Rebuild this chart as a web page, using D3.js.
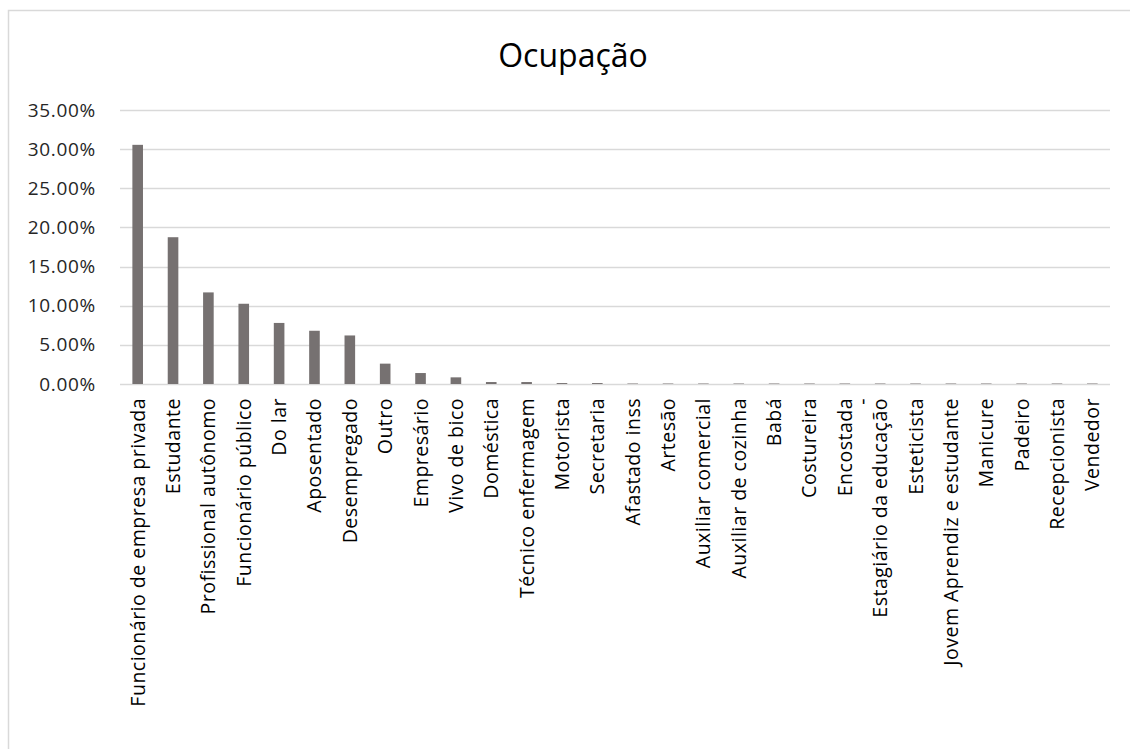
<!DOCTYPE html>
<html><head><meta charset="utf-8">
<script src="https://cdn.jsdelivr.net/npm/d3@7/dist/d3.min.js"></script>
<style>
body{margin:0;background:#fff;}
svg{display:block;}
</style></head>
<body>
<svg id="chart" width="1130" height="749"></svg>
<script>
const title = "Ocupação";
const categories = [
  "Funcionário de empresa privada","Estudante","Profissional autônomo","Funcionário público",
  "Do lar","Aposentado","Desempregado","Outro","Empresário","Vivo de bico","Doméstica",
  "Técnico enfermagem","Motorista","Secretaria","Afastado inss","Artesão","Auxiliar comercial",
  "Auxiliar de cozinha","Babá","Costureira","Encostada\n-","Estagiário da educação","Esteticista",
  "Jovem Aprendiz e estudante","Manicure","Padeiro","Recepcionista","Vendedor"
];
const values = [
  0.3055,0.1875,0.117,0.1025,0.078,0.068,0.062,0.026,0.014,0.0085,0.0025,
  0.0025,0.0012,0.0012,0.0006,0.0006,0.0006,0.0006,0.0006,0.0006,0.0006,0.0006,0.0006,
  0.0006,0.0006,0.0006,0.0006,0.0006
];
const yTicks = [0,0.05,0.10,0.15,0.20,0.25,0.30,0.35];

const svg = d3.select("#chart");
const x0 = 120, x1 = 1110, y0 = 384, y1 = 110;
const FONT = "'Open Sans', 'Noto Sans', sans-serif";

// frame
svg.append("rect").attr("x",8.5).attr("y",10.5).attr("width",1140).attr("height",760)
  .attr("fill","#fff").attr("stroke","#d9d9d9").attr("stroke-width",1.5);

const x = d3.scaleBand().domain(categories).range([x0,x1]).paddingInner(0.7).paddingOuter(0.35);
const y = d3.scaleLinear().domain([0,0.35]).range([y0,y1]);

// gridlines
svg.append("g").selectAll("line").data(yTicks).join("line")
  .attr("x1",x0).attr("x2",x1)
  .attr("y1",d=>Math.round(y(d))+0.5).attr("y2",d=>Math.round(y(d))+0.5)
  .attr("stroke","#d9d9d9").attr("stroke-width",1.5);

// y axis labels
const yAxis = d3.axisLeft(y).tickValues(yTicks).tickFormat(d=>(d*100).toFixed(2)+"%").tickSize(0).tickPadding(0);
const gy = svg.append("g").attr("transform",`translate(${96},0)`).call(yAxis);
gy.select(".domain").remove();
gy.selectAll("text").attr("font-family",FONT).attr("font-size",19).attr("letter-spacing","0.7px").attr("fill","#262626");

// bars
svg.append("g").selectAll("rect").data(values).join("rect")
  .attr("x",(d,i)=>x(categories[i]))
  .attr("width",x.bandwidth())
  .attr("y",d=>y(d))
  .attr("height",d=>y0-y(d))
  .attr("fill","#767171");

// x axis labels
const xAxis = d3.axisBottom(x).tickSize(0).tickFormat("");
const gx = svg.append("g").attr("transform",`translate(0,${y0})`).call(xAxis);
gx.select(".domain").remove();
gx.selectAll(".tick").each(function(d){
  const g = d3.select(this);
  const lines = d.split("\n");
  lines.forEach((ln,k)=>{
    g.append("text")
      .attr("transform",`translate(${7 + k*17},14) rotate(-90)`)
      .attr("text-anchor","end")
      .attr("font-family",FONT)
      .attr("font-size",19.5)
      .attr("letter-spacing","0.5px")
      .attr("fill","#000")
      .text(ln);
  });
});

// title
svg.append("text").attr("x",573).attr("y",67).attr("text-anchor","middle")
  .attr("font-family",FONT).attr("font-size",32)
  .attr("fill","#000").text(title);
</script>
</body></html>
